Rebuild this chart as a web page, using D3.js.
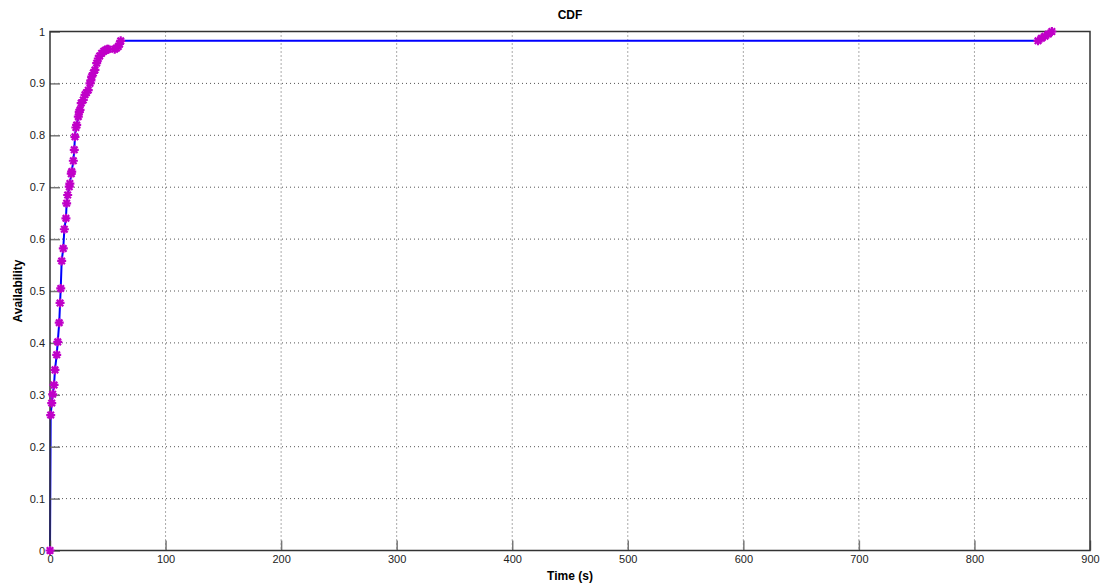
<!DOCTYPE html>
<html>
<head>
<meta charset="utf-8">
<script src="https://cdn.jsdelivr.net/npm/d3@7"></script>
<style>
  body { margin: 0; background: #fff; }
  text { font-family: "Liberation Sans", Arial, sans-serif; }
</style>
</head>
<body>
<svg id="chart" width="1105" height="583"></svg>
<script>
// time (s) of each sample
var times = [0,
  0.6, 1.5, 2.3, 3.5, 4.3, 5.8, 6.7, 8, 8.7, 9.3,
  10.1, 11.5, 12.4, 13.8, 14.4, 15.3, 16.7, 17.2, 18.4, 18.8, 20.2, 21,
  21.6, 22.4, 23.1, 24.5, 25.3, 26, 27, 28.8, 30.3, 31.5, 33.1, 34.6, 35.4, 36.1,
  37.5, 38.9, 40.4, 41.8, 43, 44.7, 46.5, 48, 49.5, 50.5, 56, 57.5, 59.1, 60.2, 61.2,
  855, 858, 861, 864, 867];
// cumulative availability
var avail = [0,
  0.261, 0.284, 0.301, 0.319, 0.348, 0.377, 0.402, 0.439, 0.477, 0.505,
  0.558, 0.582, 0.619, 0.640, 0.669, 0.685, 0.701, 0.707, 0.726, 0.730, 0.751, 0.772,
  0.797, 0.815, 0.820, 0.836, 0.845, 0.849, 0.862, 0.868, 0.878, 0.882, 0.887, 0.900, 0.906, 0.913,
  0.920, 0.926, 0.939, 0.948, 0.953, 0.958, 0.962, 0.964, 0.966, 0.966, 0.966, 0.968, 0.971, 0.976, 0.982,
  0.982, 0.987, 0.991, 0.995, 1.0];
var xTicks = [0, 100, 200, 300, 400, 500, 600, 700, 800, 900];
var yTicks = [0, 0.1, 0.2, 0.3, 0.4, 0.5, 0.6, 0.7, 0.8, 0.9, 1];

function start(){

	var data = times.map(function(t, i){ return {t: t, v: avail[i]}; });

	var svg = d3.select("#chart"),
		pLeft = 50, pRight = 1090, pTop = 31.5, pBottom = 550.5;

	var x = d3.scaleLinear().domain([0, 900]).range([pLeft, pRight]);
	var y = d3.scaleLinear().domain([0, 1]).range([pBottom, pTop]);

	// grid
	var grid = svg.append("g");
	grid.selectAll(".gx").data(xTicks.slice(1, -1)).enter().append("line")
		.attr("x1", function(d){ return x(d); }).attr("x2", function(d){ return x(d); })
		.attr("y1", pTop).attr("y2", pBottom)
		.attr("stroke", "#555").attr("stroke-dasharray", "1,3");
	grid.selectAll(".gy").data(yTicks.slice(1, -1)).enter().append("line")
		.attr("y1", function(d){ return y(d); }).attr("y2", function(d){ return y(d); })
		.attr("x1", pLeft).attr("x2", pRight)
		.attr("stroke", "#555").attr("stroke-dasharray", "1,3");

	// line
	var line = d3.line().x(function(d){ return x(d.t); }).y(function(d){ return y(d.v); });
	svg.append("path").datum(data).attr("d", line)
		.attr("fill", "none").attr("stroke", "#0000ff").attr("stroke-width", 2);

	// axes with inward ticks
	var xAxis = svg.append("g").attr("transform", "translate(0," + pBottom + ")")
		.call(d3.axisBottom(x).tickValues(xTicks).tickSizeInner(-10).tickSizeOuter(0)
			.tickFormat(d3.format("d")));
	var yAxis = svg.append("g").attr("transform", "translate(" + pLeft + ",0)")
		.call(d3.axisLeft(y).tickValues(yTicks).tickSizeInner(-10).tickSizeOuter(0)
			.tickFormat(function(d){ return d === 0 || d === 1 ? d : d3.format(".1f")(d); }));
	[xAxis, yAxis].forEach(function(a){
		a.select(".domain").remove();
		a.selectAll(".tick line").attr("stroke", "#777").attr("stroke-width", 1.5);
		a.selectAll("text").attr("fill", "#222").style("font-size", "11px");
	});
	xAxis.selectAll("text").attr("y", 5).attr("dy", "0.71em");
	yAxis.selectAll("text").attr("x", -5);

	// box, drawn over the line like the original
	svg.append("rect").attr("x", pLeft).attr("y", pTop)
		.attr("width", pRight - pLeft).attr("height", pBottom - pTop)
		.attr("fill", "none").attr("stroke", "#333").attr("stroke-width", 1.5);

	// star markers
	var r = 4.5, k = r * 0.72;
	var star = "M" + (-r) + ",0L" + r + ",0M0," + (-r) + "L0," + r +
		"M" + (-k) + "," + (-k) + "L" + k + "," + k + "M" + (-k) + "," + k + "L" + k + "," + (-k);
	svg.append("g").selectAll("path").data(data).enter().append("path")
		.attr("transform", function(d){ return "translate(" + x(d.t) + "," + y(d.v) + ")"; })
		.attr("d", star)
		.attr("fill", "none").attr("stroke", "#c000c8").attr("stroke-width", 2.2);

	// labels
	svg.append("text").attr("x", (pLeft + pRight) / 2).attr("y", 19)
		.attr("text-anchor", "middle").style("font-size", "12px").style("font-weight", "bold")
		.text("CDF");
	svg.append("text").attr("x", (pLeft + pRight) / 2).attr("y", 580)
		.attr("text-anchor", "middle").style("font-size", "12px").style("font-weight", "bold")
		.text("Time (s)");
	svg.append("text").attr("transform", "translate(22," + (pTop + pBottom) / 2 + ") rotate(-90)")
		.attr("text-anchor", "middle").style("font-size", "12px").style("font-weight", "bold")
		.text("Availability");
}

start();
</script>
</body>
</html>
